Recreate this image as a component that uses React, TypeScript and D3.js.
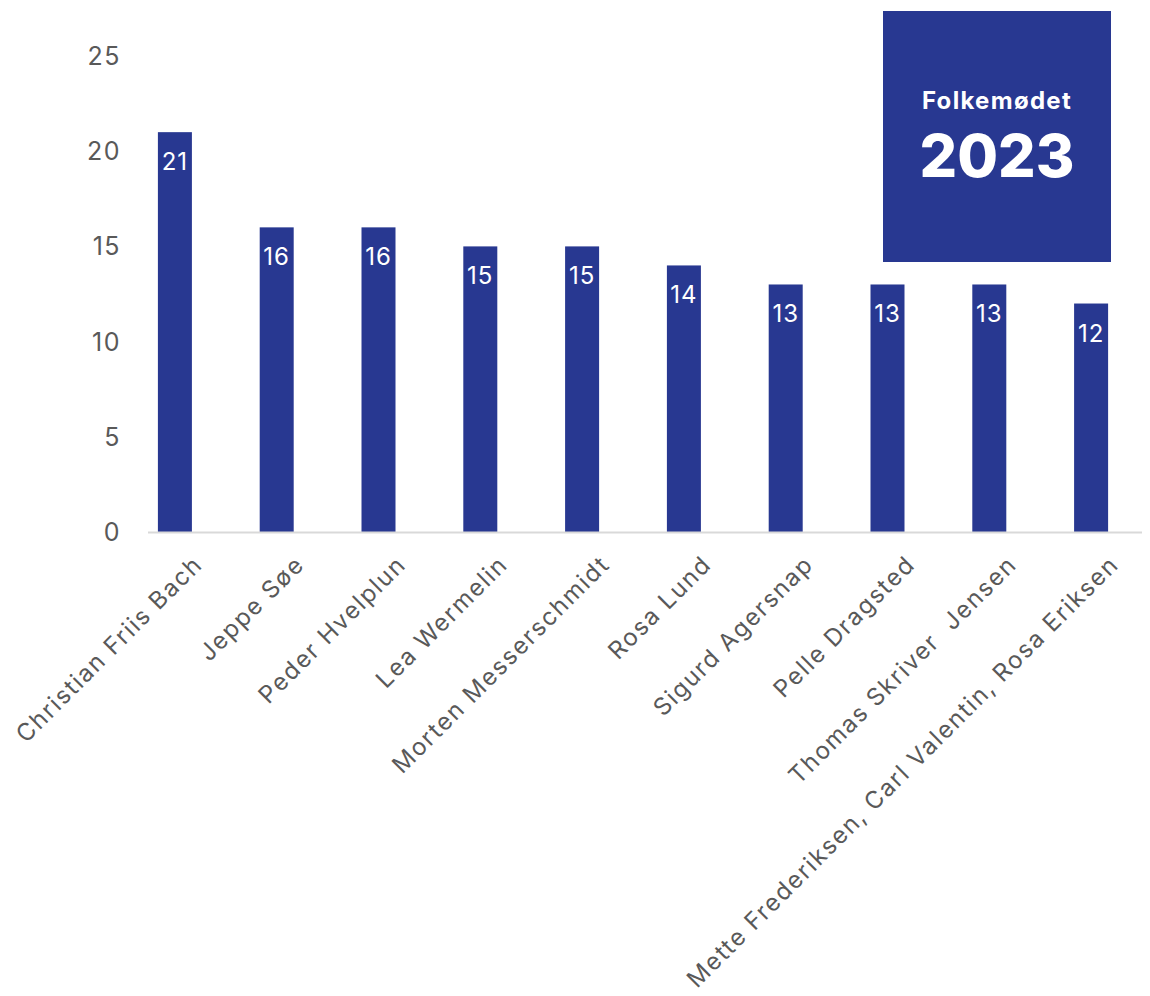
import React from "react";
import * as d3 from "d3";

const categories = [
  "Christian Friis Bach",
  "Jeppe Søe",
  "Peder Hvelplun",
  "Lea Wermelin",
  "Morten Messerschmidt",
  "Rosa Lund",
  "Sigurd Agersnap",
  "Pelle Dragsted",
  "Thomas Skriver  Jensen",
  "Mette Frederiksen, Carl Valentin, Rosa Eriksen",
];
const values = [21, 16, 16, 15, 15, 14, 13, 13, 13, 12];
const yTicks = [0, 5, 10, 15, 20, 25];
const boxTitle = "Folkemødet";
const boxYear = "2023";

const W = 1150;
const H = 996;
const BLUE = "#283891";
const FONT = "Inter, 'Noto Sans', sans-serif";

export default function App() {
  const x = d3
    .scaleBand<string>()
    .domain(categories)
    .range([124, 1142])
    .paddingInner(0.666)
    .paddingOuter(0.333);
  const y = d3.scaleLinear().domain([0, 25]).range([532, 56]);

  return (
    <svg
      width={W}
      height={H}
      style={{ position: "absolute", left: 0, top: 0, background: "#fff" }}
      fontFamily={FONT}
    >
      <rect x={0} y={0} width={W} height={H} fill="#fff" />
      {yTicks.map((t) => (
        <text
          key={t}
          x={121}
          y={y(t)}
          dy="0.36em"
          textAnchor="end"
          fontSize={25}
          letterSpacing={1.5}
          fill="#595959"
        >
          {t}
        </text>
      ))}
      {categories.map((c, i) => {
        const bx = x(c)!;
        const bw = x.bandwidth();
        return (
          <g key={c}>
            <rect x={bx} y={y(values[i])} width={bw} height={y(0) - y(values[i])} fill={BLUE} />
            <text
              x={bx + bw / 2}
              y={y(values[i]) + 38}
              textAnchor="middle"
              fontSize={24}
              letterSpacing={1}
              fill="#fff"
            >
              {values[i]}
            </text>
          </g>
        );
      })}
      <line x1={148} x2={1142} y1={y(0) + 0.5} y2={y(0) + 0.5} stroke="#d9d9d9" strokeWidth={2} />
      {categories.map((c) => {
        const cx = x(c)! + x.bandwidth() / 2;
        return (
          <text
            key={c}
            transform={`translate(${cx + 29},${566}) rotate(-45)`}
            textAnchor="end"
            fontSize={24}
            letterSpacing={1.65}
            fill="#595959"
            style={{ whiteSpace: "pre" }}
          >
            {c}
          </text>
        );
      })}
      <rect x={883} y={11} width={228} height={251} fill={BLUE} />
      <text
        x={997}
        y={109}
        textAnchor="middle"
        fontSize={24}
        fontWeight={700}
        letterSpacing={1.3}
        fill="#fff"
      >
        {boxTitle}
      </text>
      <text x={997} y={177} textAnchor="middle" fontSize={59} fontWeight={800} fill="#fff">
        {boxYear}
      </text>
    </svg>
  );
}
